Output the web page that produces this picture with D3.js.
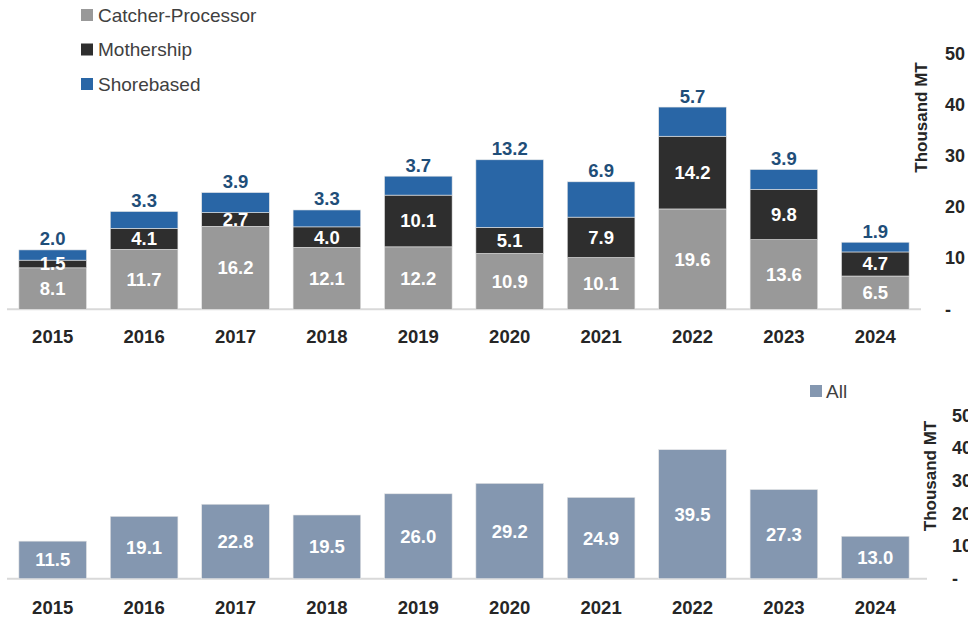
<!DOCTYPE html>
<html>
<head>
<meta charset="utf-8">
<script src="https://cdn.jsdelivr.net/npm/d3@7/dist/d3.min.js"></script>
<style>
  html, body { margin: 0; padding: 0; background: #fff; }
  svg { display: block; }
  text { font-family: "Liberation Sans", Arial, sans-serif; }
</style>
</head>
<body>
<svg id="chart" width="968" height="617"></svg>
<script>
// Harvest by sector, thousand metric tons
const years = ["2015", "2016", "2017", "2018", "2019", "2020", "2021", "2022", "2023", "2024"];
const catcherProcessor = [8.1, 11.7, 16.2, 12.1, 12.2, 10.9, 10.1, 19.6, 13.6, 6.5];
const mothership = [1.5, 4.1, 2.7, 4.0, 10.1, 5.1, 7.9, 14.2, 9.8, 4.7];
const shorebased = [2.0, 3.3, 3.9, 3.3, 3.7, 13.2, 6.9, 5.7, 3.9, 1.9];
const allSectors = [11.5, 19.1, 22.8, 19.5, 26.0, 29.2, 24.9, 39.5, 27.3, 13.0];
const axisTicks = [0, 10, 20, 30, 40, 50];
const sectorNames = ["Catcher-Processor", "Mothership", "Shorebased"];
const allName = "All";
const axisTitle = "Thousand MT";

const colors = {
  "Catcher-Processor": "#999999",
  "Mothership": "#2e2e2e",
  "Shorebased": "#2966a6",
  "All": "#8497b0"
};

const svg = d3.select("#chart");
const fmt = d3.format(".1f");
const tickFmt = v => v === 0 ? "-" : String(v);

const x = d3.scaleBand().domain(years).range([7, 921]).paddingInner(0.26).paddingOuter(0.13);

// ---------- Upper panel: stacked sectors ----------
const rows = years.map((y, i) => ({
  year: y,
  "Catcher-Processor": catcherProcessor[i],
  "Mothership": mothership[i],
  "Shorebased": shorebased[i]
}));
const series = d3.stack().keys(sectorNames)(rows);

const yUpper = d3.scaleLinear().domain([0, 50]).range([309.3, 53.3]);

const upper = svg.append("g");

upper.append("line")
  .attr("x1", 7).attr("x2", 921)
  .attr("y1", yUpper(0)).attr("y2", yUpper(0))
  .attr("stroke", "#d9d9d9").attr("stroke-width", 2);

const layers = upper.selectAll("g.layer").data(series).join("g")
  .attr("class", "layer")
  .attr("fill", d => colors[d.key]);

layers.selectAll("rect").data(d => d).join("rect")
  .attr("x", d => x(d.data.year))
  .attr("width", x.bandwidth())
  .attr("y", d => yUpper(d[1]))
  .attr("height", d => yUpper(d[0]) - yUpper(d[1]))
  .attr("stroke", "#e6e6e6").attr("stroke-width", 0.6);

// labels inside the two lower segments
series.slice(0, 2).forEach(s => {
  upper.selectAll(null).data(s).join("text")
    .attr("x", d => x(d.data.year) + x.bandwidth() / 2)
    .attr("y", d => yUpper((d[0] + d[1]) / 2))
    .attr("text-anchor", "middle")
    .attr("dominant-baseline", "central")
    .attr("fill", "#ffffff")
    .attr("font-size", 18.5)
    .attr("font-weight", "bold")
    .text(d => fmt(d[1] - d[0]));
});

// shorebased values sit just above each bar
upper.selectAll(null).data(series[2]).join("text")
  .attr("x", d => x(d.data.year) + x.bandwidth() / 2)
  .attr("y", d => yUpper(d[1]) - 11)
  .attr("text-anchor", "middle")
  .attr("dominant-baseline", "central")
  .attr("fill", "#1f4e79")
  .attr("font-size", 18.5)
  .attr("font-weight", "bold")
  .text(d => fmt(d[1] - d[0]));

// category labels
upper.selectAll(null).data(years).join("text")
  .attr("x", d => x(d) + x.bandwidth() / 2)
  .attr("y", 336)
  .attr("text-anchor", "middle")
  .attr("dominant-baseline", "central")
  .attr("fill", "#262626")
  .attr("font-size", 18.5)
  .attr("font-weight", "bold")
  .text(d => d);

// right value axis
const axisUpper = d3.axisRight(yUpper).tickValues(axisTicks).tickFormat(tickFmt).tickSize(0).tickPadding(0);
upper.append("g")
  .attr("transform", "translate(945,0)")
  .call(axisUpper)
  .call(g => g.select(".domain").remove())
  .call(g => g.selectAll("text")
    .attr("fill", "#262626")
    .attr("font-size", 18)
    .attr("font-weight", "bold")
    .attr("font-family", "Liberation Sans, Arial, sans-serif"));

upper.append("text")
  .attr("transform", "translate(921,117.5) rotate(-90)")
  .attr("text-anchor", "middle")
  .attr("dominant-baseline", "central")
  .attr("fill", "#262626")
  .attr("font-size", 17)
  .attr("font-weight", "bold")
  .text(axisTitle);

// legend
const legend = upper.append("g");
sectorNames.forEach((name, i) => {
  const cy = 15 + i * 34.5;
  legend.append("rect")
    .attr("x", 81).attr("y", cy - 6)
    .attr("width", 12).attr("height", 12)
    .attr("fill", colors[name]);
  legend.append("text")
    .attr("x", 98).attr("y", cy)
    .attr("dominant-baseline", "central")
    .attr("fill", "#404040")
    .attr("font-size", 19)
    .text(name);
});

// ---------- Lower panel: all sectors ----------
const yLower = d3.scaleLinear().domain([0, 50]).range([578.7, 415.4]);
const lower = svg.append("g");

lower.append("line")
  .attr("x1", 7).attr("x2", 927)
  .attr("y1", yLower(0)).attr("y2", yLower(0))
  .attr("stroke", "#d9d9d9").attr("stroke-width", 2);

const allRows = years.map((y, i) => ({ year: y, value: allSectors[i] }));

lower.selectAll("rect.all").data(allRows).join("rect")
  .attr("class", "all")
  .attr("x", d => x(d.year))
  .attr("width", x.bandwidth())
  .attr("y", d => yLower(d.value))
  .attr("height", d => yLower(0) - yLower(d.value))
  .attr("fill", colors[allName])
  .attr("stroke", "#e6e6e6").attr("stroke-width", 0.6);

lower.selectAll(null).data(allRows).join("text")
  .attr("x", d => x(d.year) + x.bandwidth() / 2)
  .attr("y", d => yLower(d.value / 2))
  .attr("text-anchor", "middle")
  .attr("dominant-baseline", "central")
  .attr("fill", "#ffffff")
  .attr("font-size", 18.5)
  .attr("font-weight", "bold")
  .text(d => fmt(d.value));

lower.selectAll(null).data(years).join("text")
  .attr("x", d => x(d) + x.bandwidth() / 2)
  .attr("y", 607)
  .attr("text-anchor", "middle")
  .attr("dominant-baseline", "central")
  .attr("fill", "#262626")
  .attr("font-size", 18.5)
  .attr("font-weight", "bold")
  .text(d => d);

const axisLower = d3.axisRight(yLower).tickValues(axisTicks).tickFormat(tickFmt).tickSize(0).tickPadding(0);
lower.append("g")
  .attr("transform", "translate(952,0)")
  .call(axisLower)
  .call(g => g.select(".domain").remove())
  .call(g => g.selectAll("text")
    .attr("fill", "#262626")
    .attr("font-size", 18)
    .attr("font-weight", "bold")
    .attr("font-family", "Liberation Sans, Arial, sans-serif"));

lower.append("text")
  .attr("transform", "translate(930,476) rotate(-90)")
  .attr("text-anchor", "middle")
  .attr("dominant-baseline", "central")
  .attr("fill", "#262626")
  .attr("font-size", 17)
  .attr("font-weight", "bold")
  .text(axisTitle);

lower.append("rect")
  .attr("x", 810).attr("y", 385)
  .attr("width", 12).attr("height", 12)
  .attr("fill", colors[allName]);
lower.append("text")
  .attr("x", 826).attr("y", 391)
  .attr("dominant-baseline", "central")
  .attr("fill", "#404040")
  .attr("font-size", 19)
  .text(allName);
</script>
</body>
</html>
